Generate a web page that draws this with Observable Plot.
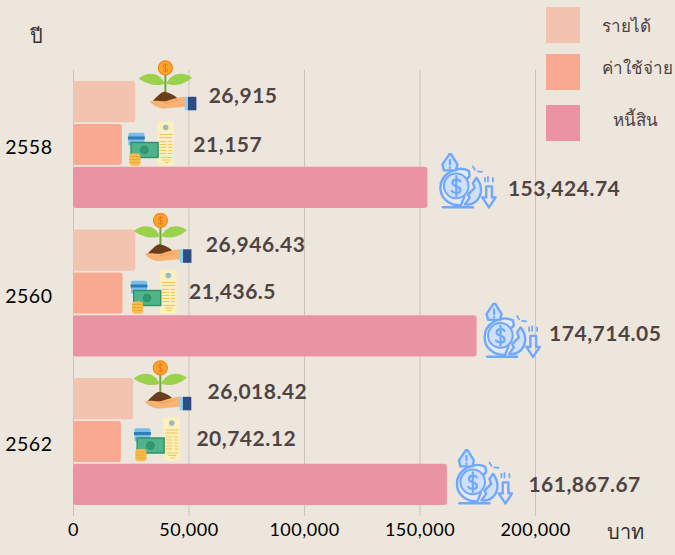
<!DOCTYPE html>
<html><head><meta charset="utf-8">
<script src="https://cdn.jsdelivr.net/npm/d3@7"></script>
<script src="https://cdn.jsdelivr.net/npm/@observablehq/plot@0.6"></script>
<style>
html,body{margin:0;padding:0;background:#ede6dc;width:675px;height:555px;overflow:hidden}
#wrap{position:relative;width:675px;height:555px}
.sw{position:absolute;left:546px;width:34px;height:36px}
.lg{position:absolute;font:17px "Noto Sans",Lato,sans-serif;color:#4e4242;text-align:center;width:100px;line-height:24px}
.t{position:absolute;font:20px "Noto Sans",Lato,sans-serif;color:#333}
</style></head><body><div id="wrap"></div>
<script>
const years = [2558, 2560, 2562];
const seriesNames = ["รายได้", "ค่าใช้จ่าย", "หนี้สิน"];
const seriesColors = ["#f2c4b0", "#f9a992", "#ea94a3"];
const income = [26915, 26946.43, 26018.42];
const expense = [21157, 21436.5, 20742.12];
const debt = [153424.74, 174714.05, 161867.67];
const labelText = [["26,915","21,157","153,424.74"],["26,946.43","21,436.5","174,714.05"],["26,018.42","20,742.12","161,867.67"]];
const xTicks = [0, 50000, 100000, 150000, 200000];

const svgUri = s => "data:image/svg+xml;utf8," + encodeURIComponent(s);
const plantIcon = svgUri(`<svg xmlns="http://www.w3.org/2000/svg" viewBox="0 0 60 52">
<path d="M27.700 14V34" stroke="#6fa63e" stroke-width="2" fill="none"/>
<path d="M27 23.500C22 12 10 11 1 18.300C9 24 20 27 27 23.500Z" fill="#9bd14b"/>
<path d="M28.500 23.500C34 12 46 11 54.300 17.700C47 24 37 27 28.500 23.500Z" fill="#9bd14b"/>
<circle cx="27.700" cy="7.700" r="7" fill="#f9a72b" stroke="#f3822a" stroke-width="1.200"/>
<path d="M30.200 5.300C29 3.800 25.500 4 25.700 6.300C25.900 8.200 30 7.600 30.100 9.800C30.200 11.600 26.800 11.900 25.200 10.200M27.700 3.200V12.300" stroke="#e8761e" fill="none" stroke-width="1"/>
<path d="M14 42C19 37 23 32 27 31.700C32 33 37 35 39.500 38L30 43Z" fill="#6b3d1b"/>
<path d="M12 41.700C17 39 24 42 29 41C35 39 41 36.700 47.500 36.700V46.700C38 47 32 48.500 25.300 48.500C20 48 15 45 12 41.700Z" fill="#f9b271"/>
<path d="M27 43C32 43 36 41 41 40" stroke="#ea9a55" stroke-width=".8" fill="none"/>
<rect x="47" y="36.700" width="3.500" height="13.500" fill="#91d0ee"/><rect x="50.300" y="36.700" width="8.400" height="13.500" fill="#2f4b84"/>
</svg>`);
const moneyIcon = svgUri(`<svg xmlns="http://www.w3.org/2000/svg" viewBox="0 0 48 46">
<rect x="30" y="1" width="16.500" height="44" fill="#fbf0be"/><circle cx="38.300" cy="7" r="2.800" fill="#9db9c4"/>
<path d="M32 14H45M32 17H45M32 21H39M41 21H45M32 24H39M41 24H45M32 27H39M41 27H45M32 30H39M41 30H45M32 33H39M41 33H45M33 37H45M35 39.500H43M37 42H41" stroke="#f6c453" stroke-width="1" fill="none"/>
<rect x="1" y="12.300" width="16" height="13" rx="1.500" fill="#79bee8"/><rect x="0.500" y="16" width="17" height="3" fill="#2e7db7"/>
<rect x="3.700" y="22" width="27" height="15" fill="#4fb489" stroke="#2f8f66" stroke-width="1.400"/><circle cx="17" cy="29.500" r="3.800" fill="#36976d" stroke="#2f8f66"/>
<rect x="2" y="33" width="11" height="12.300" rx="3" fill="#f9bd4b"/><path d="M2 36H13M2 39H13M2 42H13" stroke="#e9a232" stroke-width=".8"/>
</svg>`);
const debtIcon = svgUri(`<svg xmlns="http://www.w3.org/2000/svg" viewBox="0 0 58 56" fill="none" stroke="#6fa8ff" stroke-width="2.400" stroke-linejoin="round" stroke-linecap="round">
<path d="M30 18C18 12 1.500 21 1.500 35C1.500 44 9 53 22 52.500L25.500 43.500L24 38.500L29 33.500L25.700 28.300L30.700 23.300Z" fill="#e3eaf3"/>
<circle cx="17.300" cy="33" r="12.300" fill="#cfe0f7" stroke-width="2"/>
<path d="M21.500 28.500C20 25.800 13.500 26 13.500 30C13.500 34 21.500 32.500 21.500 37C21.500 40.800 15 41 12.800 38M17.400 23.500V43" stroke-width="2.200"/>
<path d="M37.500 25L34 30L35.700 35L29 41.700L30.700 45L26 51.500C34 53 41 47 42 39C42.500 34 41 29 37.500 25Z" fill="#cfe0f7"/>
<path d="M10.500 1.200L3.500 11.500L5 17.500H17L18.500 11.500L12 1.200Z" fill="#cfe0f7"/>
<path d="M11 7V11.500M11 14.500V15" stroke-width="2.200"/>
<path d="M34 13.500L36 17M39 18.500L43 19M46 25V28.500M49 24V28.500M54 25V28.500" stroke-width="1.800"/>
<path d="M47.300 33.500H53V44.500H56.700L50 54.500L43.300 44.500H47.300Z"/><path d="M4 54.300H34" stroke-width="2.400"/>
</svg>`);

// drawing offsets, in pixels from the end of each bar: [label dx, label dy, icon dx, icon dy] per year
const layout = [
 [[73,-6,32,-16],[71,0,29,-1.5],[80,1.5,40,-7]],
 [[70,-5,27,-12],[66,-1,31,-2],[72,-2,35,-6]],
 [[74,-7,29,-13],[75,-3,36,-3],[81,0,37,-8]]
];
const icons = [plantIcon, moneyIcon, debtIcon];
const iconSize = [[60,52],[48,46],[58,56]];
const values = [income, expense, debt];

const rows = years.flatMap((year, i) => seriesNames.map((name, j) => ({
  year, name, value: values[j][i], text: labelText[i][j],
  color: seriesColors[j], icon: icons[j], size: iconSize[j], off: layout[i][j]
})));

const plot = Plot.plot({
  width: 675, height: 555,
  marginLeft: 73, marginRight: 140, marginTop: 81, marginBottom: 50,
  style: {background: "transparent", fontFamily: "Lato, 'Noto Sans', sans-serif", overflow: "visible", letterSpacing: "0.5px"},
  x: {domain: [0, 200000], axis: null},
  y: {domain: seriesNames, axis: null, paddingInner: 0.04, paddingOuter: 0, round: false},
  fy: {domain: years, paddingInner: 0.145, paddingOuter: 0, axis: null, round: false},
  marks: [
    Plot.ruleX(xTicks, {stroke: "#c9c3ba", strokeWidth: 1, insetTop: -11, insetBottom: -11}),
    Plot.barX(rows, {x: "value", y: "name", fy: "year", fill: "color", rx: 3}),
    ...rows.map(r => Plot.image([r], {
      x: "value", y: "name", fy: "year", src: "icon",
      width: r.size[0], height: r.size[1], dx: r.off[2], dy: r.off[3]
    })),
    ...rows.map(r => Plot.text([r], {
      x: "value", y: "name", fy: "year", text: "text", textAnchor: "start",
      dx: r.off[0], dy: r.off[1], fontSize: 21, fontWeight: 700, fill: "#504343"
    })),
    Plot.axisFy({anchor: "left", tickSize: 0, tickPadding: 21, label: null, fontSize: 19.5, color: "#000", dy: 3, tickFormat: d => String(d)}),
    Plot.axisX(xTicks, {anchor: "bottom", tickSize: 0, tickPadding: 18, label: null, fontSize: 18, color: "#000", tickFormat: d3.format(",")})
  ]
});
const wrap = document.getElementById("wrap");
wrap.appendChild(plot);
plot.style.position = "absolute"; plot.style.left = "0"; plot.style.top = "0";

const legendTops = [7, 54, 105];
const legendCenters = [626, 637, 635];
const legendTextTops = [14, 56, 108];
seriesNames.forEach((n, i) => {
  const s = document.createElement("div"); s.className = "sw";
  s.style.top = legendTops[i] + "px"; s.style.background = seriesColors[i]; wrap.appendChild(s);
  const t = document.createElement("div"); t.className = "lg"; t.textContent = n;
  t.style.left = (legendCenters[i] - 50) + "px";
  t.style.top = legendTextTops[i] + "px"; wrap.appendChild(t);
});
const addText = (text, left, top) => { const d = document.createElement("div"); d.className = "t"; d.textContent = text; d.style.left = left + "px"; d.style.top = top + "px"; wrap.appendChild(d); };
addText("ปี", 30, 20);
addText("บาท", 607, 516);
</script></body></html>
